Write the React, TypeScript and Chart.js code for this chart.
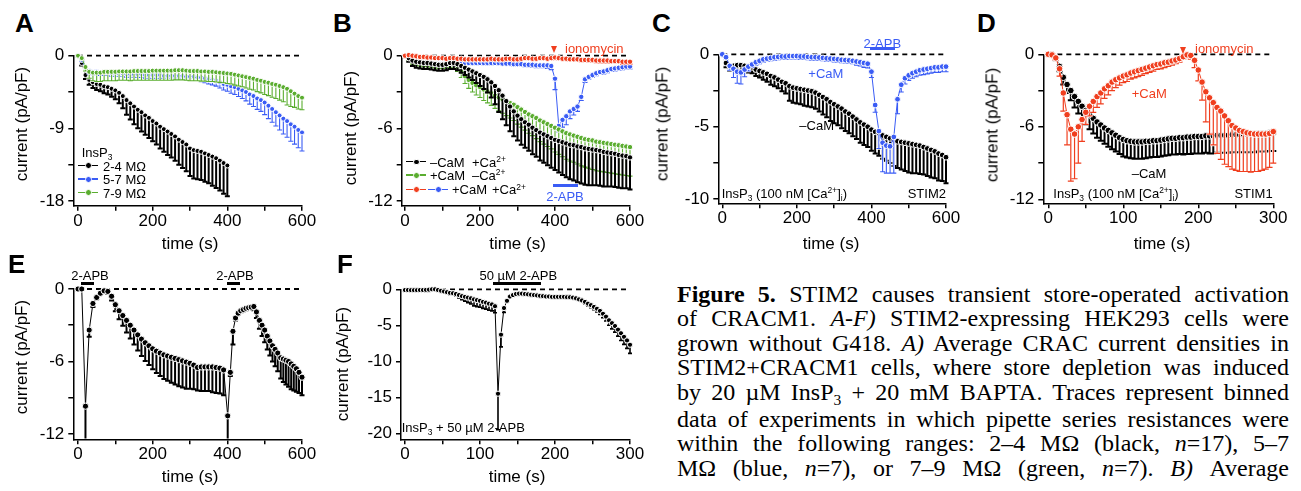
import React, { useEffect, useRef } from 'react';
import { Chart, registerables } from 'chart.js';
Chart.register(...registerables);

const SANS = '"Liberation Sans", Arial, Helvetica, sans-serif';
const SERIF = '"Liberation Serif", "Times New Roman", serif';
Chart.defaults.font.family = SANS;

const BLACK = '#000000';
const BLUE = '#3a5cf5';
const GREEN = '#5aad2f';
const RED = '#f03e1e';

// ---------- time grids ----------
const T600 = [0,10,20,30,40,50,60,70,80,90,100,110,120,130,140,150,160,170,180,190,200,210,220,230,240,250,260,270,280,290,300,310,320,330,340,350,360,370,380,390,400,410,420,430,440,450,460,470,480,490,500,510,520,530,540,550,560,570,580,590,600];
const T400 = T600.slice(0, 41);
const T300 = [0,5,10,15,20,25,30,35,40,45,50,55,60,65,70,75,80,85,90,95,100,105,110,115,120,125,130,135,140,145,150,155,160,165,170,175,180,185,190,195,200,205,210,215,220,225,230,235,240,245,250,255,260,265,270,275,280,285,290,295,300];
const E_T = [0,10,20,30,40,50,60,70,80,90,100,110,120,130,140,150,160,170,180,190,200,210,220,230,240,250,260,270,280,290,300,310,320,330,340,350,360,370,380,390,401,408,415,422,429,436,443,450,457,464,471,478,486,493,500,507,514,521,528,535,543,550,557,564,571,578,585,592,600];
const F_T = [0,4,8,12,16,20,24,28,32,36,40,44,48,52,56,60,64,68,72,76,80,84,88,92,96,100,104,108,112,116,120,124,128,132,136,140,144,148,152,156,160,164,168,172,176,180,184,188,192,196,200,204,208,212,216,220,224,228,232,236,240,244,248,252,256,260,264,268,272,276,280,284,288,292,296,300];

// ---------- panel A ----------
const A_BLACK = [0,-0.9,-2.4,-3.0,-3.3,-3.5,-3.6,-3.8,-3.9,-4.1,-4.3,-4.6,-5.0,-5.5,-5.9,-6.3,-6.7,-7.0,-7.4,-7.7,-8.1,-8.4,-8.8,-9.1,-9.4,-9.7,-10.0,-10.4,-10.7,-11.0,-11.5,-11.7,-11.8,-11.9,-12.1,-12.3,-12.5,-12.7,-13.0,-13.3,-13.6];
const A_BLACK_ERR = [0,0.3,0.5,0.6,0.7,0.75,0.8,0.85,0.9,1.0,1.1,1.3,1.5,1.8,2.0,2.2,2.3,2.4,2.4,2.5,2.5,2.6,2.7,2.8,2.9,2.9,3.0,3.1,3.2,3.3,3.4,3.5,3.5,3.5,3.5,3.5,3.6,3.7,3.7,3.8,3.8];
const A_BLUE = [0,-0.5,-1.5,-1.9,-2.0,-2.0,-2.1,-2.1,-2.1,-2.2,-2.2,-2.2,-2.2,-2.3,-2.3,-2.3,-2.3,-2.3,-2.4,-2.4,-2.4,-2.4,-2.4,-2.5,-2.5,-2.5,-2.5,-2.5,-2.5,-2.6,-2.6,-2.6,-2.7,-2.7,-2.8,-2.9,-3.0,-3.1,-3.3,-3.5,-3.6,-3.8,-3.9,-4.1,-4.3,-4.5,-4.8,-5.0,-5.3,-5.5,-5.8,-6.2,-6.6,-7.0,-7.4,-7.8,-8.1,-8.5,-8.8,-9.2,-9.5];
const A_BLUE_ERR = [0,0.2,0.3,0.35,0.35,0.35,0.35,0.35,0.35,0.35,0.35,0.35,0.35,0.35,0.35,0.35,0.4,0.4,0.4,0.4,0.4,0.4,0.4,0.4,0.4,0.4,0.4,0.4,0.4,0.4,0.45,0.48,0.5,0.52,0.55,0.6,0.63,0.67,0.7,0.75,0.8,0.85,0.9,0.95,1.0,1.1,1.2,1.3,1.35,1.4,1.5,1.6,1.65,1.7,1.8,1.9,2.0,2.1,2.15,2.2,2.3];
const A_GREEN = [0,-0.3,-1.4,-2.0,-2.1,-2.1,-2.1,-2.0,-2.0,-2.0,-2.0,-1.95,-1.95,-1.95,-1.95,-1.9,-1.9,-1.9,-1.9,-1.9,-1.85,-1.85,-1.85,-1.85,-1.85,-1.85,-1.8,-1.8,-1.8,-1.85,-1.9,-1.9,-1.9,-1.95,-1.95,-2.0,-2.0,-2.05,-2.1,-2.15,-2.2,-2.25,-2.35,-2.45,-2.55,-2.65,-2.75,-2.85,-3.0,-3.1,-3.25,-3.35,-3.5,-3.6,-3.75,-3.9,-4.1,-4.4,-4.7,-5.0,-5.2];
const A_GREEN_ERR = [0,0.2,0.5,0.8,1.0,1.1,1.1,1.1,1.1,1.1,1.1,1.1,1.1,1.1,1.15,1.15,1.15,1.15,1.15,1.15,1.2,1.2,1.2,1.2,1.2,1.2,1.2,1.2,1.2,1.2,1.2,1.2,1.2,1.2,1.2,1.2,1.2,1.2,1.2,1.2,1.25,1.25,1.3,1.3,1.3,1.35,1.4,1.4,1.45,1.5,1.55,1.6,1.65,1.7,1.75,1.8,2.0,1.9,1.7,1.6,1.5];

// ---------- panel B ----------
const B_BLACK = [0,-0.2,-0.4,-0.5,-0.55,-0.6,-0.6,-0.65,-0.7,-0.75,-0.75,-0.7,-0.6,-0.6,-0.7,-0.85,-1.0,-1.15,-1.3,-1.45,-1.6,-1.75,-1.95,-2.2,-2.5,-2.85,-3.3,-3.75,-4.2,-4.6,-4.95,-5.25,-5.5,-5.7,-5.95,-6.15,-6.35,-6.5,-6.65,-6.8,-6.95,-7.05,-7.15,-7.25,-7.35,-7.4,-7.5,-7.55,-7.65,-7.7,-7.75,-7.8,-7.85,-7.95,-8.0,-8.05,-8.1,-8.2,-8.25,-8.3,-8.4];
const B_BLACK_ERR = [0,0.3,0.45,0.5,0.5,0.5,0.5,0.5,0.5,0.5,0.5,0.5,0.5,0.5,0.5,0.55,0.6,0.65,0.7,0.8,0.9,1.0,1.1,1.25,1.5,1.8,1.95,2.0,2.05,2.05,2.05,2.1,2.1,2.15,2.2,2.2,2.3,2.35,2.4,2.45,2.5,2.6,2.7,2.8,2.85,2.9,2.95,3.0,3.0,3.0,2.95,2.9,2.9,2.85,2.8,2.75,2.75,2.7,2.7,2.65,2.65];
const B_GREEN = [0,-0.2,-0.4,-0.5,-0.55,-0.6,-0.6,-0.65,-0.7,-0.75,-0.75,-0.7,-0.65,-0.7,-0.9,-1.3,-1.7,-2.0,-2.25,-2.45,-2.6,-2.8,-2.95,-3.1,-3.3,-3.45,-3.6,-3.75,-3.9,-4.05,-4.25,-4.45,-4.65,-4.85,-5.0,-5.15,-5.35,-5.5,-5.65,-5.8,-5.95,-6.1,-6.25,-6.4,-6.5,-6.6,-6.7,-6.8,-6.9,-6.95,-7.0,-7.1,-7.15,-7.2,-7.25,-7.3,-7.35,-7.4,-7.45,-7.5,-7.55];
const B_GREEN_ERR = [0,0.2,0.3,0.3,0.3,0.3,0.3,0.3,0.3,0.3,0.3,0.3,0.3,0.35,0.4,0.5,0.6,0.7,0.75,0.8,0.85,0.9,0.95,1.0,1.05,1.1,1.15,1.2,1.25,1.3,1.4,1.45,1.5,1.55,1.6,1.7,1.75,1.8,1.85,1.9,2.0,2.05,2.1,2.15,2.2,2.2,2.25,2.3,2.3,2.35,2.4,2.4,2.4,2.4,2.4,2.4,2.4,2.4,2.4,2.4,2.4];
const B_RED = [0,0.05,0,-0.05,-0.1,-0.1,-0.15,-0.15,-0.2,-0.2,-0.2,-0.25,-0.2,-0.2,-0.25,-0.25,-0.3,-0.3,-0.3,-0.3,-0.3,-0.3,-0.3,-0.25,-0.3,-0.3,-0.3,-0.25,-0.25,-0.3,-0.3,-0.25,-0.2,-0.2,-0.25,-0.25,-0.2,-0.2,-0.25,-0.2,-0.15,-0.2,-0.25,-0.25,-0.3,-0.3,-0.3,-0.35,-0.35,-0.35,-0.35,-0.4,-0.4,-0.4,-0.4,-0.45,-0.45,-0.45,-0.5,-0.5,-0.5];
const B_RED_ERR = [0,0.05,0.1,0.1,0.1,0.1,0.1,0.1,0.12,0.12,0.12,0.12,0.12,0.12,0.12,0.15,0.15,0.15,0.15,0.15,0.15,0.15,0.15,0.15,0.15,0.15,0.15,0.15,0.15,0.15,0.15,0.15,0.15,0.15,0.15,0.15,0.15,0.15,0.15,0.15,0.15,0.15,0.15,0.15,0.15,0.15,0.15,0.15,0.15,0.18,0.18,0.18,0.2,0.2,0.2,0.2,0.2,0.2,0.2,0.2,0.2];
const B_BLUE = [0,-0.2,-0.4,-0.5,-0.55,-0.6,-0.6,-0.65,-0.7,-0.7,-0.7,-0.65,-0.6,-0.6,-0.6,-0.6,-0.6,-0.6,-0.6,-0.6,-0.6,-0.6,-0.6,-0.6,-0.6,-0.6,-0.65,-0.65,-0.65,-0.7,-0.7,-0.7,-0.75,-0.75,-0.75,-0.8,-0.8,-0.8,-0.8,-0.85,-1.9,-5.8,-5.3,-5.0,-4.6,-4.4,-4.2,-3.4,-1.95,-1.75,-1.6,-1.45,-1.35,-1.3,-1.2,-1.1,-1.05,-1.0,-0.95,-0.9,-0.9];
const B_BLUE_ERR = [0,0.1,0.1,0.1,0.1,0.1,0.1,0.1,0.1,0.1,0.1,0.1,0.1,0.1,0.1,0.1,0.12,0.12,0.12,0.12,0.15,0.15,0.15,0.15,0.15,0.15,0.15,0.15,0.15,0.15,0.15,0.15,0.15,0.15,0.2,0.2,0.2,0.2,0.25,0.3,0.9,0.5,0.6,0.7,0.6,0.5,0.4,0.3,0.25,0.2,0.2,0.2,0.2,0.2,0.2,0.2,0.2,0.2,0.2,0.2,0.2];

// ---------- panel C ----------
const C_BLACK = [0,-0.6,-0.8,-0.8,-0.75,-0.75,-0.8,-0.85,-0.9,-1.05,-1.15,-1.25,-1.35,-1.5,-1.6,-1.75,-1.9,-2.0,-2.2,-2.3,-2.35,-2.4,-2.45,-2.5,-2.55,-2.65,-2.8,-2.95,-3.1,-3.3,-3.45,-3.6,-3.75,-3.95,-4.1,-4.3,-4.5,-4.7,-4.85,-5.0,-5.2,-5.35,-5.45,-5.6,-5.7,-5.8,-5.9,-6.0,-6.05,-6.1,-6.15,-6.2,-6.25,-6.3,-6.4,-6.5,-6.6,-6.7,-6.85,-6.95,-7.1];
const C_BLACK_ERR = [0,0.3,0.35,0.35,0.35,0.35,0.35,0.4,0.4,0.45,0.45,0.5,0.55,0.6,0.6,0.6,0.65,0.7,1.0,1.05,1.05,1.05,1.1,1.1,1.1,1.1,1.15,1.2,1.25,1.3,1.3,1.3,1.35,1.35,1.35,1.35,1.35,1.4,1.4,1.4,1.45,1.5,1.55,1.6,1.65,1.7,1.8,1.85,1.9,1.95,2.0,2.0,1.95,1.95,1.9,1.9,1.9,1.85,1.85,1.8,1.8];
const C_BLUE = [0,-0.2,-0.8,-1.0,-1.2,-1.25,-1.05,-0.85,-0.7,-0.55,-0.45,-0.35,-0.3,-0.25,-0.2,-0.18,-0.15,-0.15,-0.12,-0.12,-0.12,-0.15,-0.15,-0.18,-0.2,-0.2,-0.22,-0.25,-0.28,-0.3,-0.32,-0.35,-0.38,-0.4,-0.42,-0.45,-0.5,-0.55,-0.6,-0.65,-1.2,-3.5,-5.3,-6.1,-6.3,-6.35,-5.7,-3.1,-2.1,-1.65,-1.45,-1.3,-1.2,-1.1,-1.05,-1.0,-0.95,-0.9,-0.9,-0.85,-0.85];
const C_BLUE_ERR = [0,0.1,0.3,0.6,0.8,0.8,0.5,0.3,0.2,0.2,0.2,0.2,0.2,0.2,0.2,0.2,0.2,0.2,0.2,0.2,0.2,0.2,0.2,0.2,0.2,0.2,0.2,0.2,0.2,0.2,0.2,0.2,0.2,0.2,0.2,0.2,0.25,0.25,0.3,0.3,0.4,0.5,1.2,2.0,1.9,1.85,2.5,1.0,0.5,0.4,0.35,0.35,0.35,0.35,0.35,0.35,0.35,0.35,0.35,0.35,0.35];

// ---------- panel D ----------
const D_BLACK = [0,-0.05,-0.3,-1.0,-1.9,-2.5,-3.0,-3.5,-3.9,-4.3,-4.65,-5.0,-5.3,-5.6,-5.85,-6.1,-6.3,-6.5,-6.7,-6.9,-7.05,-7.15,-7.2,-7.25,-7.25,-7.25,-7.2,-7.2,-7.15,-7.15,-7.1,-7.05,-7.0,-6.95,-6.95,-6.9,-6.9,-6.85,-6.85,-6.8,-6.8,-6.8,-6.75,-6.75,-6.75,-6.7,-6.7,-6.7,-6.7,-6.65,-6.65,-6.65,-6.6,-6.6,-6.6,-6.6,-6.55,-6.55,-6.55,-6.5,-6.5];
const D_BLACK_ERR = [0,0.05,0.2,0.4,0.6,0.7,0.8,0.9,1.0,1.1,1.2,1.2,1.25,1.3,1.3,1.3,1.35,1.35,1.35,1.35,1.4,1.4,1.4,1.4,1.4,1.4,1.4,1.35,1.35,1.35,1.35,1.35,1.35,1.35,1.35,1.35,1.4,1.4,1.4,1.4,1.4,1.4,1.4,1.45,1.45,1.45,1.45,1.45,1.45,1.45,1.45,1.45,1.5,1.5,1.5,1.5,1.5,1.5,1.5,1.5,1.5];
const D_RED = [0,-0.05,-0.3,-1.2,-3.2,-5.0,-6.2,-6.6,-6.0,-5.4,-4.8,-4.3,-3.9,-3.5,-3.2,-2.85,-2.6,-2.3,-2.1,-1.95,-1.8,-1.7,-1.55,-1.45,-1.35,-1.25,-1.15,-1.05,-0.95,-0.85,-0.8,-0.7,-0.65,-0.55,-0.47,-0.35,-0.2,-0.05,-0.1,-0.5,-1.3,-2.3,-3.1,-3.6,-4.0,-4.4,-4.7,-5.1,-5.5,-5.9,-6.1,-6.3,-6.4,-6.5,-6.55,-6.6,-6.6,-6.6,-6.6,-6.55,-6.4];
const D_RED_ERR = [0,0.05,0.2,0.6,1.5,2.5,4.3,3.7,3.0,1.8,1.0,0.8,0.9,0.9,0.9,0.8,0.75,0.7,0.65,0.6,0.55,0.55,0.5,0.5,0.5,0.5,0.45,0.45,0.45,0.4,0.4,0.4,0.35,0.35,0.3,0.3,0.2,0.2,0.3,0.6,0.9,1.5,2.5,3.0,3.5,3.8,4.0,4.0,3.8,3.6,3.5,3.4,3.3,3.2,3.2,3.1,3.1,3.0,2.9,2.8,2.6];

// ---------- panel E ----------
const E_VAL = [0,0,-9.7,-3.4,-1.2,-0.7,-0.35,-0.15,-0.2,-0.6,-1.3,-1.8,-2.2,-2.6,-3.0,-3.4,-3.8,-4.15,-4.45,-4.7,-4.95,-5.15,-5.3,-5.45,-5.55,-5.65,-5.75,-5.85,-5.95,-6.05,-6.15,-6.3,-6.5,-6.45,-6.45,-6.45,-6.45,-6.5,-6.55,-6.7,-10.5,-6.9,-3.5,-2.4,-2.0,-1.8,-1.7,-1.6,-1.55,-1.5,-1.45,-1.9,-2.6,-3.0,-3.4,-3.9,-4.3,-4.7,-5.0,-5.3,-5.7,-5.8,-5.9,-6.0,-6.2,-6.4,-6.6,-6.9,-7.3];
const E_ERR = [0,0.05,3.5,0.55,0.3,0.15,0.1,0.1,0.2,0.35,0.55,0.7,0.85,1.0,1.1,1.2,1.3,1.4,1.5,1.6,1.7,1.8,1.9,2.0,2.05,2.1,2.15,2.2,2.2,2.2,2.1,2.0,1.9,2.0,2.0,2.0,2.1,2.1,2.1,2.1,3.0,0.3,1.1,0.2,0.15,0.15,0.15,0.15,0.15,0.2,0.3,0.5,0.7,0.9,1.0,1.1,1.2,1.3,1.4,1.5,1.7,1.9,2.0,2.1,2.1,2.0,1.9,1.7,1.5];

// ---------- panel F ----------
const F_VAL = [-0.1,-0.1,-0.12,-0.12,-0.12,-0.1,-0.1,-0.08,-0.05,0,0,-0.1,-0.2,-0.3,-0.4,-0.5,-0.55,-0.65,-0.8,-0.95,-1.05,-1.15,-1.25,-1.4,-1.5,-1.6,-1.75,-1.85,-2.0,-2.1,-2.35,-14.5,-6.3,-2.6,-1.6,-1.0,-0.8,-0.65,-0.6,-0.6,-0.65,-0.7,-0.75,-0.8,-0.85,-0.9,-0.95,-1.0,-1.0,-1.05,-1.05,-1.05,-1.05,-1.05,-1.1,-1.1,-1.15,-1.25,-1.4,-1.55,-1.75,-2.0,-2.2,-2.45,-2.7,-3.0,-3.4,-3.8,-4.3,-4.7,-5.1,-5.6,-6.1,-6.6,-7.1,-7.7];
const F_ERR = [0.05,0.05,0.05,0.05,0.05,0.05,0.05,0.05,0.05,0.05,0.05,0.1,0.1,0.15,0.15,0.2,0.2,0.3,0.4,0.5,0.6,0.7,0.8,0.9,0.9,0.9,0.9,0.9,0.9,0.9,0.9,5.0,1.7,0.6,0.2,0.15,0.15,0.15,0.15,0.15,0.15,0.15,0.15,0.15,0.15,0.15,0.15,0.15,0.2,0.2,0.2,0.2,0.2,0.2,0.2,0.2,0.2,0.2,0.25,0.25,0.3,0.3,0.35,0.4,0.45,0.5,0.55,0.6,0.7,0.8,0.85,0.9,1.0,1.05,1.1,1.2];

// ---------- ticks ----------
const X_TICKS_600 = [0,100,200,300,400,500,600];
const X_LABELS_600 = [0,200,400,600];
const X_TICKS_300 = [0,50,100,150,200,250,300];
const X_LABELS_300 = [0,100,200,300];
const Y_TICKS_A = [0,-4.5,-9,-13.5,-18];
const Y_LABELS_A = [0,-9,-18];
const Y_TICKS_6 = [0,-3,-6,-9,-12];
const Y_LABELS_6 = [0,-6,-12];
const Y_TICKS_C = [0,-2.5,-5,-7.5,-10];
const Y_LABELS_C = [0,-5,-10];
const Y_TICKS_F = [0,-5,-10,-15,-20];

type Series = { t: number[]; v: number[]; e: number[]; color: string; errW: number; halo: boolean };
type PanelCfg = {
  left: number; top: number; width: number; height: number;
  area: { l: number; t: number; r: number; b: number };
  xMin: number; xMax: number; yMin: number;
  xTicks: number[]; xLabeled: number[]; yTicks: number[]; yLabeled: number[];
  series: Series[]; radius: number; cap: number;
};

const S = (t: number[], v: number[], e: number[], color: string, errW: number, halo: boolean): Series => ({ t, v, e, color, errW, halo });

const PANELS: PanelCfg[] = [
  { left: 25, top: 40, width: 300, height: 200, area: { l: 73.3, t: 55.7, r: 302, b: 205.7 },
    xMin: -12.6, xMax: 600, yMin: -18.58, xTicks: X_TICKS_600, xLabeled: X_LABELS_600, yTicks: Y_TICKS_A, yLabeled: Y_LABELS_A,
    series: [S(T400, A_BLACK, A_BLACK_ERR, BLACK, 2, false), S(T600, A_BLUE, A_BLUE_ERR, BLUE, 1.1, true), S(T600, A_GREEN, A_GREEN_ERR, GREEN, 1.1, true)],
    radius: 2.5, cap: 5 },
  { left: 352, top: 40, width: 300, height: 200, area: { l: 401.7, t: 55.7, r: 630, b: 205.7 },
    xMin: -8.8, xMax: 600, yMin: -12.39, xTicks: X_TICKS_600, xLabeled: X_LABELS_600, yTicks: Y_TICKS_6, yLabeled: Y_LABELS_6,
    series: [S(T600, B_BLUE, B_BLUE_ERR, BLUE, 1.1, true), S(T600, B_GREEN, B_GREEN_ERR, GREEN, 1.1, true), S(T600, B_BLACK, B_BLACK_ERR, BLACK, 2, false), S(T600, B_RED, B_RED_ERR, RED, 1.1, true)],
    radius: 2.7, cap: 5 },
  { left: 668, top: 38, width: 300, height: 200, area: { l: 718.3, t: 54.3, r: 946, b: 203.3 },
    xMin: -10.7, xMax: 600, yMin: -10.28, xTicks: X_TICKS_600, xLabeled: X_LABELS_600, yTicks: Y_TICKS_C, yLabeled: Y_LABELS_C,
    series: [S(T600, C_BLACK, C_BLACK_ERR, BLACK, 2, false), S(T600, C_BLUE, C_BLUE_ERR, BLUE, 1.1, true)],
    radius: 2.9, cap: 5 },
  { left: 993, top: 38, width: 300, height: 200, area: { l: 1043.3, t: 54.3, r: 1273.3, b: 203.3 },
    xMin: -6.67, xMax: 300, yMin: -12.33, xTicks: X_TICKS_300, xLabeled: X_LABELS_300, yTicks: Y_TICKS_6, yLabeled: Y_LABELS_6,
    series: [S(T300, D_BLACK, D_BLACK_ERR, BLACK, 2, false), S(T300, D_RED, D_RED_ERR, RED, 1.2, true)],
    radius: 3.3, cap: 6 },
  { left: 25, top: 273, width: 300, height: 200, area: { l: 73.3, t: 289, r: 302, b: 439.3 },
    xMin: -12.6, xMax: 600, yMin: -12.44, xTicks: X_TICKS_600, xLabeled: X_LABELS_600, yTicks: Y_TICKS_6, yLabeled: Y_LABELS_6,
    series: [S(E_T, E_VAL, E_ERR, BLACK, 2, false)],
    radius: 3.1, cap: 5 },
  { left: 352, top: 273, width: 300, height: 200, area: { l: 401, t: 289.3, r: 630, b: 439.3 },
    xMin: -5.33, xMax: 300, yMin: -20.83, xTicks: X_TICKS_300, xLabeled: X_LABELS_300, yTicks: Y_TICKS_F, yLabeled: Y_TICKS_F,
    series: [S(F_T, F_VAL, F_ERR, BLACK, 1.6, false)],
    radius: 2.6, cap: 4 },
];

const errorBarPlugin = {
  id: 'errorBars',
  beforeDatasetDraw(chart: any, args: any) {
    const ds = chart.data.datasets[args.index];
    if (!ds.errs) return;
    const { ctx, chartArea } = chart;
    const ys = chart.scales.y;
    const pts = args.meta.data;
    ctx.save();
    ctx.beginPath();
    ctx.rect(chartArea.left - 10, 0, chartArea.right - chartArea.left + 30, chartArea.bottom - 0.75);
    ctx.clip();
    const passes: [string, number][] = ds.errHalo ? [['#ffffff', ds.errW + 1.3], [ds.borderColor, ds.errW]] : [[ds.borderColor, ds.errW]];
    for (const [col, w] of passes) {
      ctx.strokeStyle = col;
      ctx.lineWidth = w;
      ctx.beginPath();
      pts.forEach((p: any, i: number) => {
        const e = ds.errs[i];
        if (!e) return;
        const v = ds.data[i].y;
        const y2 = ys.getPixelForValue(v - e);
        ctx.moveTo(p.x, p.y);
        ctx.lineTo(p.x, y2);
        ctx.moveTo(p.x - ds.cap / 2, y2);
        ctx.lineTo(p.x + ds.cap / 2, y2);
      });
      ctx.stroke();
    }
    ctx.restore();
  },
};

function buildConfig(p: PanelCfg): any {
  const datasets: any[] = p.series.map((s, i) => ({
    type: 'line',
    data: s.t.map((t, j) => ({ x: t, y: s.v[j] })),
    errs: s.e, cap: p.cap, errW: s.errW, errHalo: s.halo,
    borderColor: s.color, backgroundColor: s.color, borderWidth: 1,
    pointRadius: p.radius, pointBackgroundColor: s.color, pointBorderColor: '#ffffff', pointBorderWidth: 1,
    tension: 0, clip: false, order: 50 - i,
  }));
  datasets.push({
    type: 'line', data: [{ x: 0, y: 0 }, { x: p.xMax, y: 0 }],
    borderColor: '#000', borderWidth: 1.8, borderDash: [5, 4], pointRadius: 0, clip: false, order: 100,
  });
  const axisCommon = {
    grid: { drawOnChartArea: false, drawTicks: true, tickLength: 5, color: '#000', lineWidth: 1.5 },
    border: { display: true, color: '#000', width: 1.5 },
  };
  return {
    type: 'line',
    data: { datasets },
    plugins: [errorBarPlugin],
    options: {
      responsive: false, animation: false, devicePixelRatio: 1, events: [],
      layout: { padding: { left: 0, top: p.area.t - p.top, right: p.left + p.width - p.area.r, bottom: 0 } },
      plugins: { legend: { display: false }, tooltip: { enabled: false } },
      scales: {
        x: {
          type: 'linear', min: p.xMin, max: p.xMax, ...axisCommon,
          afterFit: (s: any) => { s.height = p.top + p.height - p.area.b; },
          afterBuildTicks: (s: any) => { s.ticks = p.xTicks.map((v) => ({ value: v })); },
          ticks: { autoSkip: false, maxRotation: 0, padding: 0, color: '#000', font: { size: 17, family: SANS },
            callback: (v: number) => (p.xLabeled.includes(v) ? String(v) : '') },
        },
        y: {
          type: 'linear', min: p.yMin, max: 0, ...axisCommon,
          afterFit: (s: any) => { s.width = p.area.l - p.left; },
          afterBuildTicks: (s: any) => { s.ticks = p.yTicks.map((v) => ({ value: v })); },
          ticks: { autoSkip: false, padding: 4, color: '#000', font: { size: 17, family: SANS },
            callback: (v: number) => (p.yLabeled.includes(v) ? String(v) : '') },
        },
      },
    },
  };
}

function PanelChart({ cfg }: { cfg: PanelCfg }) {
  const ref = useRef<HTMLCanvasElement>(null);
  useEffect(() => {
    const chart = new Chart(ref.current as HTMLCanvasElement, buildConfig(cfg));
    return () => chart.destroy();
  }, [cfg]);
  return (
    <canvas ref={ref} width={cfg.width} height={cfg.height}
      style={{ position: 'absolute', left: cfg.left, top: cfg.top, width: cfg.width, height: cfg.height }} />
  );
}

// ---------- overlay helpers ----------
const Sub = ({ c }: { c: string }) => <span style={{ fontSize: '0.65em', position: 'relative', top: '0.35em' }}>{c}</span>;
const Sup = ({ c }: { c: string }) => <span style={{ fontSize: '0.65em', position: 'relative', top: '-0.55em' }}>{c}</span>;

function Txt({ x, y, s = 13, c = '#000', a = 'l', b = false, children }: any) {
  const tx = a === 'l' ? 0 : a === 'c' ? -50 : -100;
  return (
    <div style={{ position: 'absolute', left: x, top: y, fontSize: s, color: c, fontWeight: b ? 'bold' : 'normal',
      lineHeight: 1, whiteSpace: 'nowrap', fontFamily: SANS, transform: `translate(${tx}%, -50%)` }}>{children}</div>
  );
}
function VTxt({ x, y, children }: any) {
  return (
    <div style={{ position: 'absolute', left: x, top: y, fontSize: 17, lineHeight: 1, whiteSpace: 'nowrap', fontFamily: SANS,
      transform: 'translate(-50%, -50%) rotate(-90deg)' }}>{children}</div>
  );
}
function Bar({ x1, x2, y, h = 2.7, c }: any) {
  return <div style={{ position: 'absolute', left: x1, top: y, width: x2 - x1, height: h, background: c }} />;
}
function Tri({ cx, y, c }: any) {
  return <div style={{ position: 'absolute', left: cx - 3.5, top: y, width: 0, height: 0,
    borderLeft: '3.5px solid transparent', borderRight: '3.5px solid transparent', borderTop: `7px solid ${c}` }} />;
}
function Sym({ x, y, c, w = 20 }: any) {
  const r = 2.4;
  return (
    <>
      <div style={{ position: 'absolute', left: x, top: y - 0.75, width: w, height: 1.5, background: c }} />
      <div style={{ position: 'absolute', left: x + w / 2 - r - 0.8, top: y - r - 0.8, width: 2 * r, height: 2 * r,
        borderRadius: '50%', background: c, border: '0.8px solid #fff' }} />
    </>
  );
}

const InsP3Text = () => <>InsP<Sub c="3" /> (100 nM [Ca<Sup c="2+" />]<Sub c="i" />)</>;

const CAPTION_LINES: React.ReactNode[] = [
  <><b>Figure 5.</b> STIM2 causes transient store-operated activation</>,
  <>of CRACM1. <i>A-F)</i> STIM2-expressing HEK293 cells were</>,
  <>grown without G418. <i>A)</i> Average CRAC current densities in</>,
  <>STIM2+CRACM1 cells, where store depletion was induced</>,
  <>by 20 µM InsP<Sub c="3" /> + 20 mM BAPTA. Traces represent binned</>,
  <>data of experiments in which pipette series resistances were</>,
  <>within the following ranges: 2–4 MΩ (black, <i>n</i>=17), 5–7</>,
  <>MΩ (blue, <i>n</i>=7), or 7–9 MΩ (green, <i>n</i>=7). <i>B)</i> Average</>,
];

export default function App() {
  return (
    <div style={{ position: 'absolute', left: 0, top: 0, width: 1301, height: 491, background: '#fff', overflow: 'hidden', fontFamily: SANS, color: '#000' }}>
      {PANELS.map((p, i) => <PanelChart key={i} cfg={p} />)}

      {/* panel letters */}
      <Txt x={15} y={22.5} s={26} b>A</Txt>
      <Txt x={333} y={22.5} s={26} b>B</Txt>
      <Txt x={652} y={22.5} s={26} b>C</Txt>
      <Txt x={977} y={22.5} s={26} b>D</Txt>
      <Txt x={8} y={264} s={26} b>E</Txt>
      <Txt x={337} y={264} s={26} b>F</Txt>

      {/* axis titles */}
      <VTxt x={21} y={124}>current (pA/pF)</VTxt>
      <VTxt x={350} y={128}>current (pA/pF)</VTxt>
      <VTxt x={661.7} y={124}>current (pA/pF)</VTxt>
      <VTxt x={991.7} y={125}>current (pA/pF)</VTxt>
      <VTxt x={20.5} y={357}>current (pA/pF)</VTxt>
      <VTxt x={341.7} y={364}>current (pA/pF)</VTxt>
      <Txt x={190} y={243} s={17} a="c">time (s)</Txt>
      <Txt x={517.5} y={243} s={17} a="c">time (s)</Txt>
      <Txt x={831} y={243} s={17} a="c">time (s)</Txt>
      <Txt x={1162} y={243} s={17} a="c">time (s)</Txt>
      <Txt x={190} y={475.5} s={17} a="c">time (s)</Txt>
      <Txt x={517} y={475.5} s={17} a="c">time (s)</Txt>

      {/* A legend */}
      <Txt x={81.7} y={152}>InsP<Sub c="3" /></Txt>
      <Sym x={78} y={165.5} c={BLACK} />
      <Txt x={103} y={165.5}>2-4 MΩ</Txt>
      <Sym x={78} y={179} c={BLUE} />
      <Txt x={103} y={179}>5-7 MΩ</Txt>
      <Sym x={78} y={192.5} c={GREEN} />
      <Txt x={103} y={192.5}>7-9 MΩ</Txt>

      {/* B legend and annotations */}
      <Sym x={406} y={161.7} c={BLACK} />
      <Txt x={430} y={161.7}>–CaM</Txt>
      <Txt x={472} y={161.7}>+Ca<Sup c="2+" /></Txt>
      <Sym x={406} y={175} c={GREEN} />
      <Txt x={430} y={175}>+CaM</Txt>
      <Txt x={472} y={175}>–Ca<Sup c="2+" /></Txt>
      <Sym x={406} y={189.3} c={RED} />
      <Sym x={428.3} y={189.3} c={BLUE} />
      <Txt x={452} y={189.3}>+CaM</Txt>
      <Txt x={492} y={189.3}>+Ca<Sup c="2+" /></Txt>
      <Tri cx={554.5} y={46.3} c={RED} />
      <Txt x={565} y={48} c={RED}>ionomycin</Txt>
      <Bar x1={552.7} x2={578} y={184} c={BLUE} />
      <Txt x={565} y={196} c={BLUE} a="c">2-APB</Txt>

      {/* C annotations */}
      <Txt x={882.3} y={42.5} c={BLUE} a="c">2-APB</Txt>
      <Bar x1={870} x2={895} y={47.3} c={BLUE} />
      <Txt x={808.3} y={73.3} c={BLUE}>+CaM</Txt>
      <Txt x={799.3} y={125}>–CaM</Txt>
      <Txt x={721.7} y={193}><InsP3Text /></Txt>
      <Txt x={946} y={193} a="r">STIM2</Txt>

      {/* D annotations */}
      <Tri cx={1183.5} y={47} c={RED} />
      <Txt x={1195} y={47.5} c={RED}>ionomycin</Txt>
      <Txt x={1131.7} y={93.3} c={RED}>+CaM</Txt>
      <Txt x={1131.7} y={173.3}>–CaM</Txt>
      <Txt x={1053.3} y={192.7}><InsP3Text /></Txt>
      <Txt x={1272.7} y={192.7} a="r">STIM1</Txt>

      {/* E annotations */}
      <Txt x={90} y={275.3} a="c">2-APB</Txt>
      <Bar x1={81} x2={94} y={281.7} h={3} c={BLACK} />
      <Txt x={235} y={275.3} a="c">2-APB</Txt>
      <Bar x1={226.7} x2={240} y={281.7} h={3} c={BLACK} />

      {/* F annotations */}
      <Txt x={518.3} y={275.3} a="c">50 µM 2-APB</Txt>
      <Bar x1={493.3} x2={540.7} y={281.5} h={3} c={BLACK} />
      <Txt x={401.7} y={426.7}>InsP<Sub c="3" /> + 50 µM 2-APB</Txt>

      {/* caption */}
      <div style={{ position: 'absolute', left: 677, top: 282, width: 612, fontFamily: SERIF, fontSize: 24, lineHeight: '24.4px', color: '#000' }}>
        {CAPTION_LINES.map((l, i) => (
          <div key={i} style={{ textAlign: 'justify', textAlignLast: 'justify' as any }}>{l}</div>
        ))}
      </div>
    </div>
  );
}
